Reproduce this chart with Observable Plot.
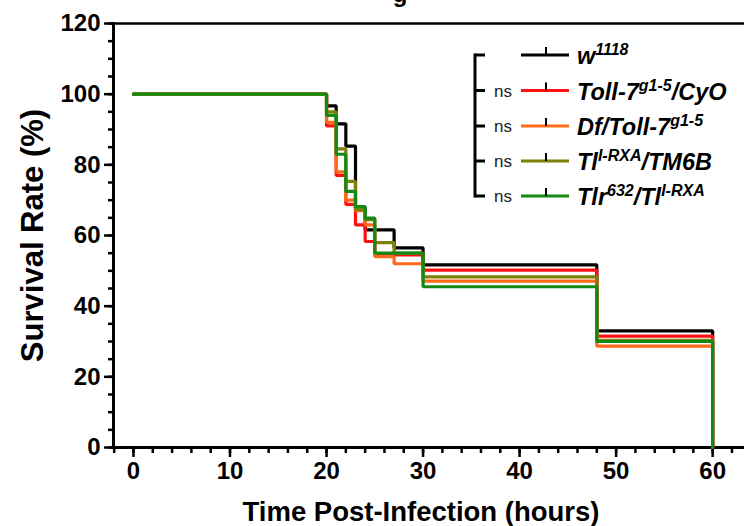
<!DOCTYPE html>
<html>
<head>
<meta charset="utf-8">
<script src="https://cdn.jsdelivr.net/npm/d3@7"></script>
<script src="https://cdn.jsdelivr.net/npm/@observablehq/plot@0.6"></script>
<style>
  html, body { margin: 0; padding: 0; background: #fff; }
  #wrap { position: relative; width: 744px; height: 526px; overflow: hidden; }
  #overlay { position: absolute; left: 0; top: 0; pointer-events: none; }
  text { font-family: "Liberation Sans", Arial, sans-serif; }
</style>
</head>
<body>
<div id="wrap"></div>
<script>
// ---- data ----
const seriesNames = ["w1118", "Toll-7g1-5/CyO", "Df/Toll-7g1-5", "Tl[I-RXA]/TM6B", "Tlr632/Tl[I-RXA]"];
const seriesColors = ["#000000", "#ff1010", "#ff6a1a", "#7f7f0a", "#138a13"];

const times_w1118 = [0, 20, 21, 22, 23, 24, 27, 30, 48, 60];
const surv_w1118  = [100, 96.7, 91.6, 85.3, 68, 61.6, 56.5, 51.7, 33, 0];

const times_toll7cyo = [0, 20, 21, 22, 23, 24, 25, 30, 48, 60];
const surv_toll7cyo  = [100, 91, 77, 68.8, 63, 58.3, 54.5, 50.2, 31.5, 0];

const times_dftoll7 = [0, 20, 21, 22, 23, 24, 25, 27, 30, 48, 60];
const surv_dftoll7  = [100, 92, 78, 70, 67, 63, 54, 52, 47.1, 28.7, 0];

const times_tlrxa = [0, 20, 21, 22, 23, 24, 25, 27, 30, 48, 60];
const surv_tlrxa  = [100, 95, 84.5, 75.3, 67.3, 64.5, 58, 55, 48.3, 30.3, 0];

const times_tlr632 = [0, 20, 21, 22, 23, 24, 25, 30, 48, 60];
const surv_tlr632  = [100, 94, 83, 72.5, 68.2, 64.9, 55, 45.5, 30, 0];

const xMajorTicks = [0, 10, 20, 30, 40, 50, 60];
const xMinorTicks = d3.range(-2, 63, 2);
const yMajorTicks = [0, 20, 40, 60, 80, 100, 120];
const yMinorTicks = d3.range(0, 121, 5);

const xLabel = "Time Post-Infection (hours)";
const yLabel = "Survival Rate (%)";

// ---- build table ----
const allTimes = [times_w1118, times_toll7cyo, times_dftoll7, times_tlrxa, times_tlr632];
const allSurv  = [surv_w1118, surv_toll7cyo, surv_dftoll7, surv_tlrxa, surv_tlr632];
const rows = [];
allTimes.forEach((ts, i) => ts.forEach((t, j) => rows.push({series: seriesNames[i], t, s: allSurv[i][j]})));

const font = "'Liberation Sans', Arial, sans-serif";

const chart = Plot.plot({
  width: 744,
  height: 526,
  marginLeft: 113,
  marginRight: 0,
  marginTop: 23,
  marginBottom: 79,
  style: {fontFamily: font, fontSize: "24px", fontWeight: "bold", color: "#000", background: "#fff", overflow: "visible"},
  x: {domain: [-2.07, 63.3]},
  y: {domain: [0, 120]},
  color: {domain: seriesNames, range: seriesColors},
  marks: [
    Plot.axisY({ticks: yMinorTicks, tickSize: 5, text: null, label: null, strokeWidth: 2.5}),
    Plot.axisY({ticks: yMajorTicks, tickSize: 9, tickPadding: 4, label: null, strokeWidth: 2.5, fontSize: 24, fontWeight: "bold"}),
    Plot.axisX({ticks: xMinorTicks, tickSize: 6, text: null, label: null, strokeWidth: 2.5}),
    Plot.axisX({ticks: xMajorTicks, tickSize: 10, tickPadding: 4, label: null, strokeWidth: 2.5, fontSize: 24, fontWeight: "bold"}),
    Plot.frame({anchor: "left", strokeWidth: 3}),
    Plot.frame({anchor: "bottom", strokeWidth: 3}),
    Plot.frame({anchor: "top", strokeWidth: 2.5}),
    Plot.line(rows, {x: "t", y: "s", z: "series", stroke: "series", curve: "step-after", strokeWidth: 3.2, strokeLinejoin: "miter"}),
    Plot.text([yLabel], {text: d => d, frameAnchor: "left", textAnchor: "middle", lineAnchor: "middle", dx: -80, rotate: -90, fontSize: 31, fontWeight: "bold"}),
    Plot.text([xLabel], {text: d => d, frameAnchor: "bottom", textAnchor: "middle", lineAnchor: "middle", dx: -8, dy: 65, fontSize: 27.5, fontWeight: "bold"})
  ]
});

const wrap = document.getElementById("wrap");
wrap.appendChild(chart);

// ---- legend overlay ----
const legendRows = [55, 90.5, 126, 161, 196];
const legendLabels = [
  [["w", false], ["1118", true]],
  [["Toll-7", false], ["g1-5", true], ["/CyO", false]],
  [["Df/Toll-7", false], ["g1-5", true]],
  [["Tl", false], ["I-RXA", true], ["/TM6B", false]],
  [["Tlr", false], ["632", true], ["/Tl", false], ["I-RXA", true]]
];
const ov = d3.select(wrap).append("svg")
  .attr("id", "overlay").attr("width", 744).attr("height", 526);

// truncated title fragment at the top edge (cut off in the reference too)
ov.append("text").attr("x", 400).attr("y", 2).attr("text-anchor", "middle")
  .attr("font-size", 24).attr("font-weight", "bold").text("g");

const g = ov.append("g");
g.append("line").attr("x1", 475).attr("x2", 475).attr("y1", legendRows[0] - 1.5).attr("y2", legendRows[4] + 1.5)
  .attr("stroke", "#000").attr("stroke-width", 3);
legendRows.forEach((y, i) => {
  g.append("line").attr("x1", 475).attr("x2", 485).attr("y1", y).attr("y2", y)
    .attr("stroke", "#000").attr("stroke-width", 3);
  if (i > 0) {
    g.append("text").attr("x", 494).attr("y", y + 6).attr("font-size", 17).attr("fill", "#222").text("ns");
  }
  g.append("line").attr("x1", 521).attr("x2", 569).attr("y1", y).attr("y2", y)
    .attr("stroke", seriesColors[i]).attr("stroke-width", 3.2);
  g.append("line").attr("x1", 546).attr("x2", 546).attr("y1", y - 8).attr("y2", y)
    .attr("stroke", "#000").attr("stroke-width", 2);
  const t = g.append("text").attr("x", 577).attr("y", y + 9)
    .attr("font-size", 23.5).attr("font-weight", "bold").attr("font-style", "italic");
  legendLabels[i].forEach(([s, sup]) => {
    const sp = t.append("tspan").text(s);
    if (sup) sp.attr("font-size", 16).attr("dy", -9);
    else if (t.selectAll("tspan").size() > 1) sp.attr("dy", 9);
  });
});
</script>
</body>
</html>
